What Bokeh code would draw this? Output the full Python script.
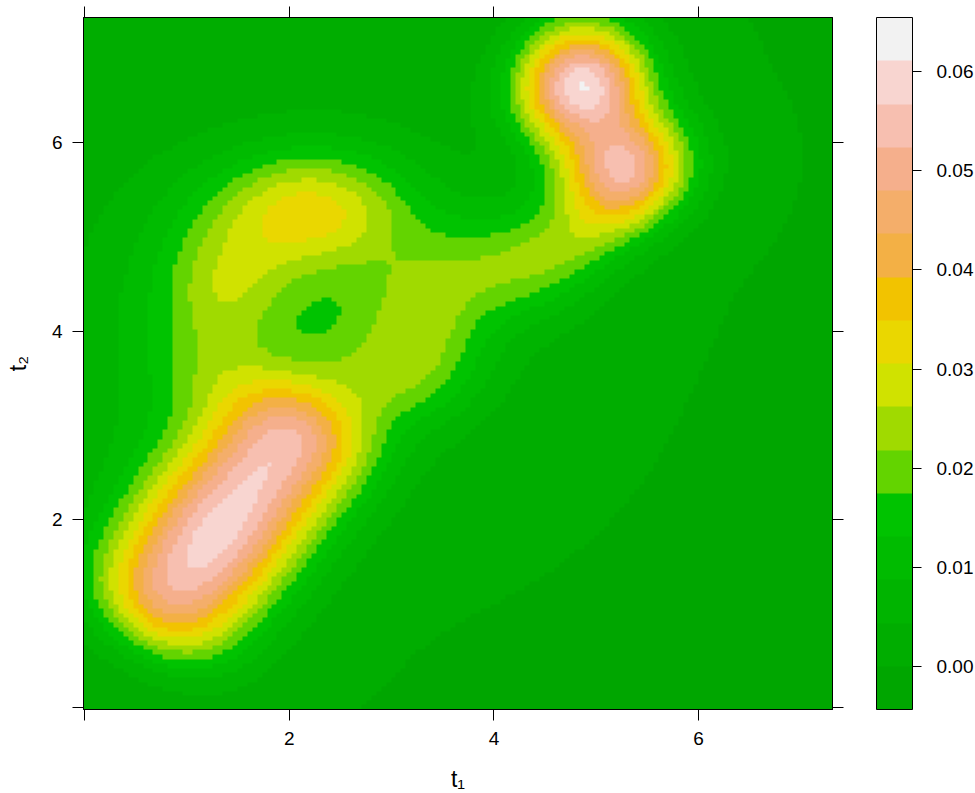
import math
import numpy as np
from bokeh.plotting import figure
from bokeh.models import (LinearColorMapper, ColorBar, FixedTicker,
                          PrintfTickFormatter, LinearAxis, Range1d)
from bokeh.embed import file_html
from bokeh.resources import INLINE

# ---------------- data ----------------
# evaluation grid of the density surface (t1, t2)
grid_t1_lo, grid_t1_hi = 0.011, 7.286
grid_t2_lo, grid_t2_hi = 0.008, 7.306
grid_n = 151

# Gaussian components: centre, spreads, orientation (deg), peak height
g_t1  = [1.30, 2.20, 1.35, 3.30, 2.85, 2.30, 4.30, 3.75, 4.85, 5.28, 4.75, 4.90, 0.40, 1.15, 3.35]
g_t2  = [1.87, 5.30, 4.45, 4.30, 3.45, 4.50, 4.72, 4.60, 6.62, 5.72, 7.25, 5.00, 3.50, 3.60, 3.55]
g_su  = [0.55, 0.70, 0.45, 0.40, 0.75, 1.10, 0.55, 0.50, 0.41, 0.41, 0.40, 0.50, 0.60, 0.40, 0.40]
g_sv  = [0.60, 0.45, 0.50, 0.45, 0.50, 1.10, 0.45, 0.40, 0.46, 0.46, 0.40, 0.30, 1.40, 0.40, 0.35]
g_ang = [55, 0, 0, 0, 25, 0, 0, 20, 116, 116, 116, 30, 0, 0, 0]
g_h   = [0.008, 0.024, 0.015, 0.009, 0.014, 0.0115, 0.014, 0.004,
         0.0569, 0.050, 0.006, 0.010, 0.006, 0.006, 0.004]

# smoothed ridge component (lower-left): plateau along the ridge, bell-shaped across it
b_t1, b_t2 = [1.40], [1.99]
b_au, b_av = [1.45], [0.05]
b_su, b_sv = [0.32], [0.57]
b_ang, b_h = [55], [0.715]

# colour key
key_lo, key_hi = -0.00433, 0.06544
key_colors = ["#00A600", "#00AD00", "#00B400", "#00BB00", "#00C300", "#63D400",
              "#A0DA00", "#D0E200", "#EAD700", "#F2C300", "#F3B045", "#F4AE6A",
              "#F5AF8C", "#F7BFB0", "#F8D5D0", "#F2F2F2"]
key_ticks = [0.00, 0.01, 0.02, 0.03, 0.04, 0.05, 0.06]
axis_ticks = [2, 4, 6]
axis_unlabelled_ticks = [0]

# ---------------- surface ----------------
xs = np.linspace(grid_t1_lo, grid_t1_hi, grid_n)
ys = np.linspace(grid_t2_lo, grid_t2_hi, grid_n)
X, Y = np.meshgrid(xs, ys)
Z = np.zeros_like(X)


def rot(cx, cy, ang):
    t = math.radians(ang)
    dx, dy = X - cx, Y - cy
    return dx * math.cos(t) + dy * math.sin(t), -dx * math.sin(t) + dy * math.cos(t)


for cx, cy, su, sv, ang, h in zip(g_t1, g_t2, g_su, g_sv, g_ang, g_h):
    u, v = rot(cx, cy, ang)
    Z += h * np.exp(-0.5 * ((u / su) ** 2 + (v / sv) ** 2))

_erf = np.vectorize(math.erf, otypes=[float])


def Phi(z):
    return 0.5 * (1.0 + _erf(z / math.sqrt(2.0)))


for cx, cy, au, av, su, sv, ang, h in zip(b_t1, b_t2, b_au, b_av, b_su, b_sv, b_ang, b_h):
    u, v = rot(cx, cy, ang)
    Z += h * (Phi((au - u) / su) - Phi((-au - u) / su)) * (Phi((av - v) / sv) - Phi((-av - v) / sv))

rep = 5
Zup = np.repeat(np.repeat(Z, rep, axis=0), rep, axis=1)
cw = (grid_t1_hi - grid_t1_lo) / (grid_n - 1)
ch = (grid_t2_hi - grid_t2_lo) / (grid_n - 1)

# ---------------- figure ----------------
FONT = "Liberation Sans"
mapper = LinearColorMapper(palette=key_colors, low=key_lo, high=key_hi)

p = figure(frame_width=749, frame_height=692,
           x_range=Range1d(grid_t1_lo - cw / 2, grid_t1_hi + cw / 2),
           y_range=Range1d(grid_t2_lo - ch / 2, grid_t2_hi + ch / 2),
           output_backend="svg", toolbar_location=None,
           x_axis_label="t₁", y_axis_label="t₂",
           min_border_left=83, min_border_top=17, min_border_bottom=80, min_border_right=140)
p.image(image=[Zup], x=grid_t1_lo - cw / 2, y=grid_t2_lo - ch / 2,
        dw=grid_t1_hi - grid_t1_lo + cw, dh=grid_t2_hi - grid_t2_lo + ch,
        color_mapper=mapper)
p.grid.visible = False
p.outline_line_color = "black"
p.outline_line_alpha = 1.0
p.background_fill_color = None

for ax in (p.xaxis[0], p.yaxis[0]):
    ax.ticker = FixedTicker(ticks=axis_ticks, minor_ticks=axis_unlabelled_ticks)
    ax.major_tick_out = 11
    ax.major_tick_in = 0
    ax.minor_tick_out = 11
    ax.minor_tick_in = 0
    ax.minor_tick_line_color = "black"
    ax.major_tick_line_color = "black"
    ax.axis_line_color = "black"
    ax.major_label_text_font = FONT
    ax.major_label_text_font_size = "19px"
    ax.major_label_text_color = "black"
    ax.axis_label_text_font = FONT
    ax.axis_label_text_font_size = "23px"
    ax.axis_label_text_font_style = "normal"
    ax.axis_label_text_color = "black"
p.xaxis[0].major_label_standoff = 11
p.xaxis[0].axis_label_standoff = 18
p.yaxis[0].major_label_standoff = 10
p.yaxis[0].axis_label_standoff = 18

frame_ticks = axis_unlabelled_ticks + axis_ticks
top_ax = LinearAxis(ticker=FixedTicker(ticks=[], minor_ticks=frame_ticks),
                    major_label_standoff=0, major_tick_out=11, major_tick_in=0,
                    minor_tick_out=11, minor_tick_in=0,
                    minor_tick_line_color="black", major_tick_line_color="black",
                    axis_line_color="black")
right_ax = LinearAxis(ticker=FixedTicker(ticks=[], minor_ticks=frame_ticks),
                      major_label_standoff=0, major_tick_out=11, major_tick_in=0,
                      minor_tick_out=11, minor_tick_in=0,
                      minor_tick_line_color="black", major_tick_line_color="black",
                      axis_line_color="black")
p.add_layout(top_ax, "above")
p.add_layout(right_ax, "right")

cb = ColorBar(color_mapper=mapper, ticker=FixedTicker(ticks=key_ticks),
              formatter=PrintfTickFormatter(format="%.2f"),
              width=36, height=692, padding=0, margin=0, location=(33, 0),
              major_tick_out=9, major_tick_in=0, major_tick_line_color="black",
              minor_tick_line_color=None, label_standoff=15,
              major_label_text_font=FONT, major_label_text_font_size="19px",
              major_label_text_color="black",
              bar_line_color="black", border_line_color=None, background_fill_color=None)
p.add_layout(cb, "right")

open("out.html", "w").write(file_html(p, INLINE))
